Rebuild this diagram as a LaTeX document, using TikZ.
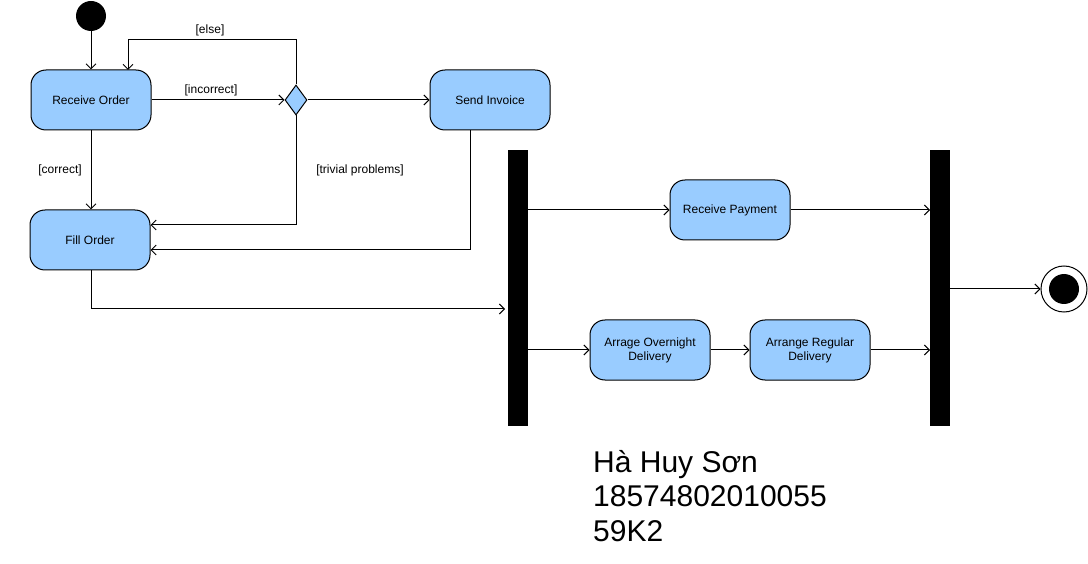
\documentclass[tikz,border=0pt]{standalone}
\usepackage{fontspec}
\setmainfont{Liberation Sans}
\usetikzlibrary{arrows.meta,shapes.geometric}
\definecolor{actblue}{HTML}{99CCFF}
\begin{document}
\begin{tikzpicture}[x=1pt,y=-1pt,
  act/.style={draw=black,fill=actblue,rounded corners=15pt,minimum width=120pt,minimum height=60pt,align=center,font=\fontsize{12}{14}\selectfont,line width=1pt,inner sep=2pt},
  bar/.style={fill=black,minimum width=20pt,minimum height=276pt,inner sep=0pt},
  arr/.style={-{Straight Barb[length=5pt,width=10pt]},line width=1pt},
  lbl/.style={font=\fontsize{12}{14}\selectfont,inner sep=0pt},
  big/.style={font=\fontsize{30}{34}\selectfont,inner sep=0pt,anchor=base west}]
\useasboundingbox (0,0) rectangle (1088,564);
% nodes
\node[circle,fill=black,minimum size=30pt,inner sep=0pt] (init) at (91,16) {};
\node[act] (ro) at (91,100) {Receive Order};
\node[diamond,draw=black,fill=actblue,line width=1pt,minimum width=22pt,minimum height=30pt,inner sep=0pt] (dec) at (296,100) {};
\node[act] (si) at (490,100) {Send Invoice};
\node[act] (fo) at (90,240) {Fill Order};
\node[bar] (fork) at (518,288) {};
\node[act] (rp) at (730,210) {Receive Payment};
\node[act] (ao) at (650,350) {Arrage Overnight\\Delivery};
\node[act] (ar) at (810,350) {Arrange Regular\\Delivery};
\node[bar] (join) at (940,288) {};
\node[circle,draw=black,line width=1pt,minimum size=46pt,inner sep=0pt] (fin) at (1064,289) {};
\node[circle,fill=black,minimum size=30pt,inner sep=0pt] (finin) at (fin.center) {};
% helper coordinates
\coordinate (elseTop) at (296,40);
\coordinate (elseIn) at (128,70);
\coordinate (trivY) at (296,225);
\coordinate (invY) at (470,250);
\coordinate (foY) at (91,309);
\coordinate (forkIn) at (505,309);
\coordinate (forkA) at (528,210);
\coordinate (forkB) at (528,350);
\coordinate (joinA) at (930,210);
\coordinate (joinB) at (930,350);
\coordinate (joinOut) at (950,289);
% connectors
\draw[arr] (init) -- (ro);
\draw[arr] (dec.north) -- (elseTop) -| (elseIn);
\draw[arr] (ro) -- (dec);
\draw[arr] (dec) -- (si);
\draw[arr] (dec.south) |- (fo.east |- trivY);
\draw[arr] (ro) -- (fo.north -| ro.south);
\draw[arr] (si.south -| invY) |- (fo.east |- invY);
\draw[arr] (fo.south -| foY) |- (forkIn);
\draw[arr] (forkA) -- (rp);
\draw[arr] (rp.east) -- (joinA);
\draw[arr] (forkB) -- (ao);
\draw[arr] (ao) -- (ar);
\draw[arr] (ar.east) -- (joinB);
\draw[arr] (joinOut) -- (fin);
% labels
\node[lbl] (lelse) at (210,30) {[else]};
\node[lbl] (linc) at (211,90) {[incorrect]};
\node[lbl] (ltriv) at (360,170) {[trivial problems]};
\node[lbl] (lcor) at (60,170) {[correct]};
% author text
\node[big] (t1) at (593,472) {Hà Huy Sơn};
\node[big] (t2) at (593,506) {18574802010055};
\node[big] (t3) at (593,541) {59K2};
\end{tikzpicture}
\end{document}
